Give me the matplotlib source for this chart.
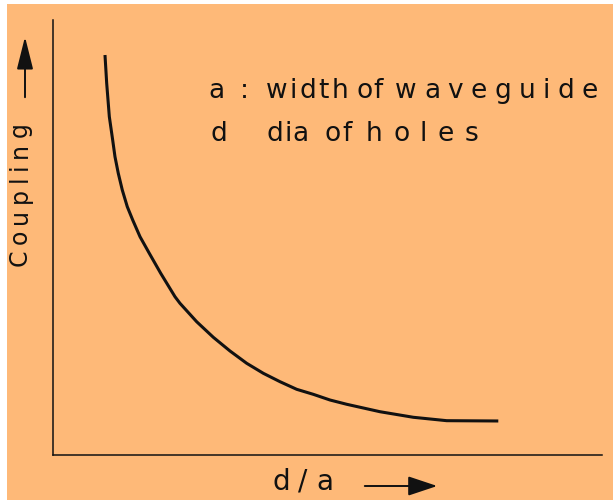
import numpy as np
import matplotlib
matplotlib.use('Agg')
import matplotlib.pyplot as plt
from matplotlib.patches import FancyArrowPatch, Rectangle

# coupling vs hole diameter (arbitrary units, no scale on either axis)
d_over_a = [0.0947, 0.0978, 0.1026, 0.1087, 0.1129, 0.1189, 0.1262, 0.1353,
            0.1452, 0.1585, 0.1754, 0.1962, 0.2222, 0.2313, 0.2617, 0.2920,
            0.3224, 0.3528, 0.3831, 0.4135, 0.4439, 0.4741, 0.5046, 0.5350,
            0.5956, 0.6563, 0.7171, 0.8111]
coupling = [0.9195, 0.8545, 0.7777, 0.7241, 0.6857, 0.6476, 0.6092, 0.5708,
            0.5402, 0.5018, 0.4637, 0.4177, 0.3639, 0.3487, 0.3064, 0.2706,
            0.2391, 0.2108, 0.1878, 0.1685, 0.1510, 0.1395, 0.1264, 0.1166,
            0.0995, 0.0867, 0.0789, 0.0782]

# key text, one entry per word: (word, left px, right px)
key_line1 = [('a', 208, 220), (':', 240, 245), ('width', 266, 348),
             ('of', 357, 383), ('waveguide', 395, 598)]
key_line2 = [('d', 210, 222), ('dia', 267, 309), ('of', 325, 352),
             ('holes', 366, 478)]
x_label = 'd/a'
y_label = 'Coupling'

bg = '#feb978'
ink = '#111111'
W, H = 613, 500

fig = plt.figure(figsize=(W / 100, H / 100), dpi=100, facecolor=bg)
ax = fig.add_axes([53 / W, 45 / H, (602 - 53) / W, (480 - 45) / H])
ax.set_facecolor(bg)
ax.plot(d_over_a, coupling, color=ink, lw=2.2, solid_capstyle='butt',
        solid_joinstyle='round')
ax.set_xlim(0, 1)
ax.set_ylim(0, 1)
ax.set_xticks([])
ax.set_yticks([])
for s in ['top', 'right']:
    ax.spines[s].set_visible(False)
for s in ['left', 'bottom']:
    ax.spines[s].set_color(ink)
    ax.spines[s].set_linewidth(1.1)

# white scan margin on the left and top edges
fig.add_artist(Rectangle((0, 0), 7 / W, 1, transform=fig.transFigure,
                         color='white', lw=0, zorder=0.5))
fig.add_artist(Rectangle((0, 1 - 4 / H), 1, 4 / H, transform=fig.transFigure,
                         color='white', lw=0, zorder=0.5))

renderer = fig.canvas.get_renderer()


def glyph_widths(word, size, rotation=0):
    ws = []
    for ch in word:
        t = fig.text(0, 0, ch, fontsize=size, rotation=rotation,
                     family='DejaVu Sans')
        e = t.get_window_extent(renderer)
        ws.append(e.height if rotation else e.width)
        t.remove()
    return ws


def fit_word(word, x0, x1, base, size):
    # spread the glyphs of one word evenly between x0 and x1 (pixels, from top-left)
    ws = glyph_widths(word, size)
    gap = (x1 - x0 - sum(ws)) / max(len(word) - 1, 1)
    pos = x0
    for ch, w in zip(word, ws):
        fig.text(pos / W, 1 - base / H, ch, ha='left', va='baseline',
                 fontsize=size, color=ink, family='DejaVu Sans')
        pos += w + gap


def fit_vertical(word, xc, y0, y1, size):
    # same, rotated, reading upward from y0 to y1
    ws = glyph_widths(word, size, rotation=90)
    gap = (y0 - y1 - sum(ws)) / max(len(word) - 1, 1)
    pos = y0
    for ch, w in zip(word, ws):
        fig.text(xc / W, 1 - pos / H, ch, ha='center', va='bottom',
                 rotation=90, fontsize=size, color=ink, family='DejaVu Sans')
        pos -= w + gap


for word, x0, x1 in key_line1:
    fit_word(word, x0, x1, 98, 19)
for word, x0, x1 in key_line2:
    fit_word(word, x0, x1, 141, 19)
fit_word(x_label, 272, 333, 490, 20)
fit_vertical(y_label, 20, 266, 122, 17)

# direction arrows next to the axis labels
fig.add_artist(FancyArrowPatch((362 / W, 1 - 486 / H), (440 / W, 1 - 486 / H),
                               transform=fig.transFigure,
                               arrowstyle='-|>,head_length=0.9,head_width=0.3',
                               mutation_scale=20, lw=1.4, color=ink))
fig.add_artist(FancyArrowPatch((25 / W, 1 - 100 / H), (25 / W, 1 - 34 / H),
                               transform=fig.transFigure,
                               arrowstyle='-|>,head_length=1.0,head_width=0.25',
                               mutation_scale=20, lw=1.4, color=ink))

fig.savefig('out.png', dpi=100, facecolor=bg)
